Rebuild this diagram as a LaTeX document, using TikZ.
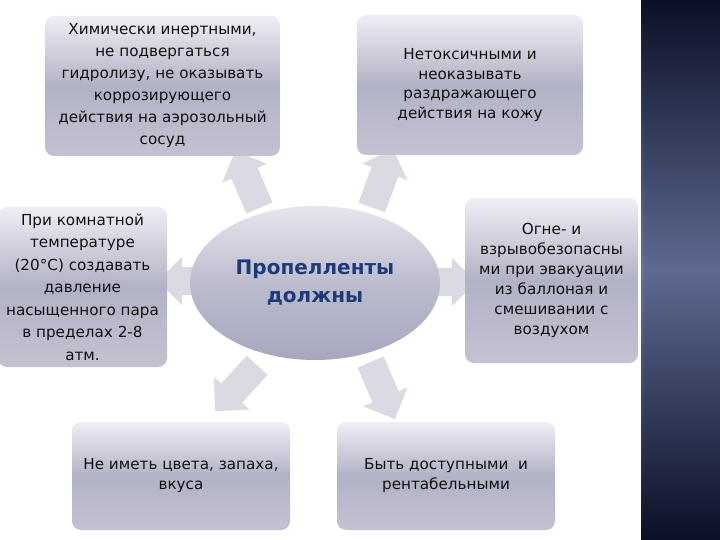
\documentclass[tikz,border=0pt]{standalone}
\usepackage{fontspec}
\setmainfont{DejaVu Sans}
\usetikzlibrary{shapes.geometric,shapes.arrows}
\definecolor{boxtop}{HTML}{EEEEF4}
\definecolor{boxmid}{HTML}{B2B2C6}
\definecolor{boxbot}{HTML}{C2C2D2}
\definecolor{elltop}{HTML}{E6E6EE}
\definecolor{ellmid}{HTML}{BCBCCE}
\definecolor{ellbot}{HTML}{A6A6BE}
\definecolor{arrowgray}{HTML}{DADAE2}
\definecolor{bandtop}{HTML}{0C1026}
\definecolor{bandmid}{HTML}{5E6A92}
\definecolor{bandedge}{HTML}{6C70A0}
\definecolor{titleblue}{HTML}{1D3A7A}
\definecolor{txt}{HTML}{101010}
\tikzset{
  infobox/.style={rectangle, rounded corners=9pt, top color=boxtop, bottom color=boxbot,
    middle color=boxmid, draw=none, align=center, text=txt, inner sep=2pt,
    font=\fontsize{15.2}{22}\selectfont},
  blockarrow/.style={single arrow, fill=arrowgray, draw=none, inner xsep=0pt, inner ysep=14pt,
    single arrow head extend=10pt, minimum height=62pt},
}
\begin{document}
\begin{tikzpicture}[x=1pt,y=-1pt]
\useasboundingbox (0,0) rectangle (720,540);
\fill[white] (0,0) rectangle (720,540);
% right band
\shade[top color=bandtop, bottom color=bandtop, middle color=bandmid] (641,0) rectangle (720,540);
\shade[top color=bandtop, bottom color=bandtop, middle color=bandedge] (641,0) rectangle (644,540);

% block arrows (behind)
\node[blockarrow, rotate=113] (a1) at (250,186) {};
\node[blockarrow, rotate=70] (a2) at (380,185) {};
\node[blockarrow, rotate=180, minimum height=50pt] (a3) at (190,281) {};
\node[blockarrow, rotate=0, minimum height=50pt] (a4) at (444,282) {};
\node[blockarrow, rotate=227.6] (a5) at (241,383) {};
\node[blockarrow, rotate=293] (a6) at (380,384) {};

% centre ellipse
\node[ellipse, minimum width=250pt, minimum height=154pt, top color=elltop, bottom color=ellbot,
  middle color=ellmid, draw=none, align=center, text=titleblue,
  font=\bfseries\fontsize{20}{28}\selectfont] (c) at (315,283) {Пропелленты\\должны};

% boxes
\node[infobox, minimum width=235pt, minimum height=140pt] (b1) at (162.5,86)
  {Химически инертными,\\не подвергаться\\гидролизу, не оказывать\\коррозирующего\\действия на аэрозольный\\сосуд};
\node[infobox, minimum width=226pt, minimum height=140pt, font=\fontsize{15.2}{19.5}\selectfont] (b2) at (470,85)
  {Нетоксичными и\\неоказывать\\раздражающего\\действия на кожу};
\node[infobox, minimum width=169pt, minimum height=160pt, font=\fontsize{15.2}{22.5}\selectfont] (b3) at (82.5,287)
  {При комнатной\\температуре\\(20°C) создавать\\давление\\насыщенного пара\\в пределах 2-8\\атм.};
\node[infobox, minimum width=173pt, minimum height=165pt, font=\fontsize{15.2}{20}\selectfont] (b4) at (551.5,280.5)
  {Огне- и\\взрывобезопасны\\ми при эвакуации\\из баллоная и\\смешивании с\\воздухом};
\node[infobox, minimum width=218pt, minimum height=108pt, font=\fontsize{15.2}{20}\selectfont] (b5) at (181,476)
  {Не иметь цвета, запаха,\\вкуса};
\node[infobox, minimum width=218pt, minimum height=108pt, font=\fontsize{15.2}{20}\selectfont] (b6) at (446,476)
  {Быть доступными~~и\\рентабельными};
\end{tikzpicture}
\end{document}
